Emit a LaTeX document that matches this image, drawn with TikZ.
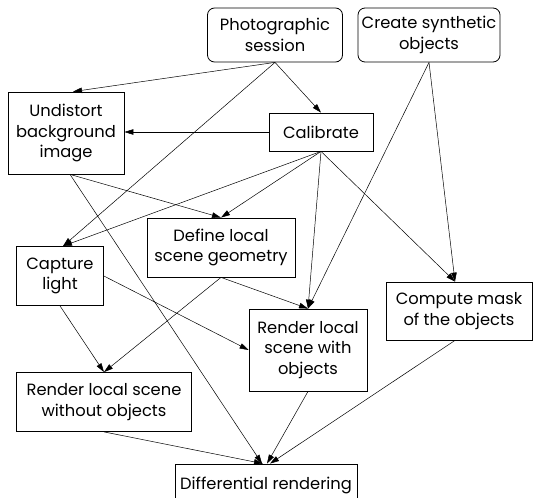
\documentclass[tikz,border=0pt]{standalone}
\usepackage{fontspec}
\setmainfont{Poppins}
\usetikzlibrary{arrows.meta}
\begin{document}
\begin{tikzpicture}[x=1pt,y=-1pt,
  box/.style={draw, line width=0.8pt, align=center, inner sep=0pt,
    font=\fontsize{16.3}{20.5}\selectfont},
  rbox/.style={box, rounded corners=7pt},
  arr/.style={line width=0.5pt, -{Triangle[length=9pt,width=5.5pt]}}]
\useasboundingbox (0,0) rectangle (534,497);
\clip (0,0) rectangle (534,497);
\node[rbox, minimum width=135pt, minimum height=54pt] (photo) at (275,35) {Photographic\\session};
\node[rbox, minimum width=142pt, minimum height=54pt] (create) at (429,35) {Create synthetic\\objects};
\node[box, minimum width=116pt, minimum height=82pt] (undist) at (66,133) {Undistort\\background\\image};
\node[box, minimum width=104pt, minimum height=38pt] (calib) at (321,132) {Calibrate};
\node[box, minimum width=148pt, minimum height=59pt] (define) at (221,247.5) {Define local\\scene geometry};
\node[box, minimum width=87pt, minimum height=59pt] (capture) at (60,276) {Capture\\light};
\node[box, minimum width=146pt, minimum height=58pt] (mask) at (459,311) {Compute mask\\of the objects};
\node[box, minimum width=118pt, minimum height=82pt] (with) at (308,350) {Render local\\scene with\\objects};
\node[box, minimum width=175pt, minimum height=59pt] (without) at (104,402) {Render local scene\\without objects};
\node[box, minimum width=182pt, minimum height=38pt, text depth=0pt] (diff) at (266,483) {Differential rendering};
% connectors
\draw[arr] (photo.south) -- ([xshift=7pt]undist.north);
\draw[arr] (photo.south) -- ([xshift=3pt]capture.north);
\draw[arr] (photo.south) -- (calib.north);
\draw[arr] (calib.west) -- (calib.west -| undist.east);
\draw[arr] (calib.south) -- (define.north);
\draw[arr] (calib.south) -- ([xshift=3pt]capture.north);
\draw[arr] (calib.south) -- (with.north);
\draw[arr] (calib.south) -- ([xshift=-4pt]mask.north);
\draw[arr] (create.south) -- (with.north);
\draw[arr] (create.south) -- ([xshift=-4pt]mask.north);
\draw[arr] ([xshift=4pt]undist.south) -- (define.north);
\draw[arr] ([xshift=4pt]undist.south) -- ([xshift=-4pt]diff.north);
\draw[arr] (define.south) -- (without.north);
\draw[arr] (define.south) -- (with.north);
\draw[arr] (capture.south) -- (without.north);
\draw[arr] (capture.east) -- (with.west);
\draw[arr] (without.south) -- ([xshift=-3pt]diff.north);
\draw[arr] (with.south) -- ([xshift=1pt]diff.north);
\draw[arr] ([xshift=-4pt]mask.south) -- ([xshift=4pt]diff.north);
\end{tikzpicture}
\end{document}
